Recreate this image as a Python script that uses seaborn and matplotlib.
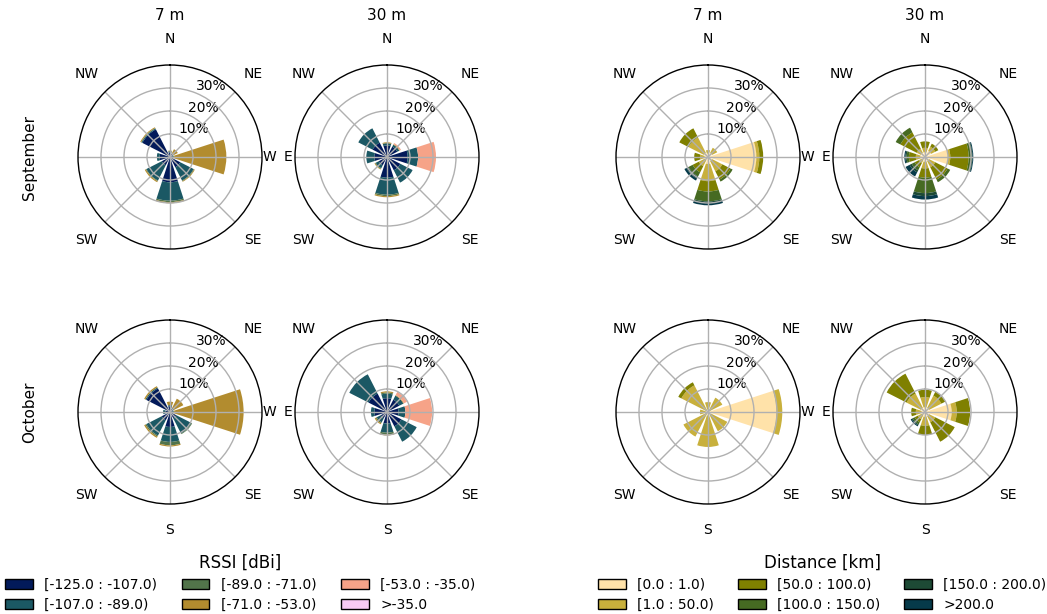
import numpy as np
import matplotlib
matplotlib.use("Agg")
import matplotlib.pyplot as plt
from matplotlib.patches import Patch
import seaborn as sns

# direction sectors, clockwise from north
directions = ["N", "NE", "E", "SE", "S", "SW", "W", "NW"]

rssi_bins = ["[-125.0 : -107.0)", "[-107.0 : -89.0)", "[-89.0 : -71.0)",
             "[-71.0 : -53.0)", "[-53.0 : -35.0)", ">-35.0"]
dist_bins = ["[0.0 : 1.0)", "[1.0 : 50.0)", "[50.0 : 100.0)",
             "[100.0 : 150.0)", "[150.0 : 200.0)", ">200.0"]

rssi_colors = ["#021a5a", "#1b5864", "#52744a", "#b28c2f", "#f6a388", "#f8cbf4"]
dist_colors = ["#ffe2a9", "#c8b03c", "#7f8000", "#466a22", "#1d4a35", "#063a4a"]

# frequency [%] per bin (rows) and direction (columns N..NW)
rssi_sep_7m = [
    [2, 1.5, 1, 5, 11, 4, 4.5, 13.5],
    [.5, .3, .5, 6.5, 8, 7.5, 1.2, .4],
    [0, 0, .3, .3, .6, .3, 0, .2],
    [.3, 2, 22.7, .3, .5, .5, 0, .4],
    [0, 0, 0, 0, 0, 0, 0, 0],
    [0, 0, 0, 0, 0, 0, 0, 0],
]
rssi_sep_30m = [
    [5, 5, 9, 6.5, 9, 4, 5.5, 7],
    [1, 1, 4.5, 6, 7.4, 1.5, 3.5, 7],
    [0, 0, 0, 0, .6, .3, 0, 0],
    [.4, .3, 0, 0, .5, .3, 0, 0],
    [0, .5, 7.8, 0, 0, 0, 0, 0],
    [0, 0, 0, 0, 0, 0, 0, 0],
]
rssi_oct_7m = [
    [2.5, 1.5, 1, 3, 6.5, 4, 2, 11.5],
    [.5, .5, .5, 7.5, 6.5, 7.5, 1, .5],
    [0, 0, .3, .3, 1.5, .5, 0, 0],
    [1.5, 4.5, 30.2, 0, .5, .6, 0, .6],
    [0, 0, 0, 0, 0, 0, 0, 0],
    [0, 0, 0, 0, 0, 0, 0, 0],
]
rssi_oct_30m = [
    [6, 6, 5, 7, 5, 3, 5.5, 9],
    [2, 2, 3, 7.5, 4, 2, 1.5, 9.4],
    [.5, 0, 0, 0, .8, .5, 0, 0],
    [.5, .3, 0, 0, .4, .5, 0, 0],
    [0, 1.5, 11.6, 0, 0, 0, 0, 0],
    [0, 0, 0, 0, 0, 0, 0, 0],
]
dist_sep_7m = [
    [1.5, 2, 21, 2, 3, 1.5, 1.5, 2],
    [1.5, 2.5, 1.3, 5, 7.5, 3, 2, 7.5],
    [0, 0, 1.7, 4, 4.5, 3, 2.5, 4.5],
    [0, 0, 0, 1, 4.3, 2, 0, 0],
    [0, 0, 0, 0, .7, 1, 0, 0],
    [0, 0, 0, 0, 1, 1, 0, 0],
]
dist_sep_30m = [
    [2, 3, 10, 2, 2, 1.5, 2, 2],
    [2, 2, 1, 3, 3, 1.5, 2, 2],
    [2.8, 1.5, 8, 6, 4, 2, 3, 8],
    [0, 0, 1.3, 1.3, 6.7, 1.5, 1, 2.3],
    [0, 0, .3, 0, 1.3, 1, .5, 0],
    [0, 0, .4, 0, 1.5, 2, .5, 0],
]
dist_oct_7m = [
    [1, 1, 29.7, 1.5, 1.5, 1, 1, 1],
    [3.3, 6, 2.6, 7.9, 13.7, 11, 2.5, 12],
    [0, 0, 0, 0, 0, 0, 0, 1.5],
    [0, 0, 0, 0, 0, 0, 0, 0],
    [0, 0, 0, 0, 0, 0, 0, 0],
    [0, 0, 0, 0, 0, 0, 0, 0],
]
dist_oct_30m = [
    [2, 2, 11.6, 2, 2, 1.5, 1.5, 2],
    [4.5, 6, 2.2, 3, 4, 2, 2.5, 7],
    [3.2, 2, 5.8, 9.5, 4, 1.5, 2, 9.7],
    [0, 0, 0, 0, 0, 1, 0, 0],
    [0, 0, 0, 0, 0, .5, 0, 0],
    [0, 0, 0, 0, 0, .5, 0, 0],
]

W, H = 1047, 614
fig = plt.figure(figsize=(W / 100, H / 100), dpi=100)

rssi_pal = sns.color_palette(rssi_colors)
dist_pal = sns.color_palette(dist_colors)

cx = [170, 387, 708, 925]
cy = [157, 412]
R = 92

panels = [
    (0, 0, rssi_sep_7m, rssi_pal), (0, 1, rssi_sep_30m, rssi_pal),
    (0, 2, dist_sep_7m, dist_pal), (0, 3, dist_sep_30m, dist_pal),
    (1, 0, rssi_oct_7m, rssi_pal), (1, 1, rssi_oct_30m, rssi_pal),
    (1, 2, dist_oct_7m, dist_pal), (1, 3, dist_oct_30m, dist_pal),
]

theta = np.deg2rad(np.arange(len(directions)) * 45)
width = np.deg2rad(45 * 0.8)

for row, col, data, pal in panels:
    ax = fig.add_axes([(cx[col] - R) / W, 1 - (cy[row] + R) / H, 2 * R / W, 2 * R / H],
                      projection="polar")
    ax.set_facecolor("none")
    ax.set_theta_zero_location("N")
    ax.set_theta_direction(-1)
    vals = np.array(data, dtype=float)
    bottom = np.zeros(len(directions))
    for i in range(vals.shape[0]):
        ax.bar(theta, vals[i], width=width, bottom=bottom, color=pal[i], linewidth=0)
        bottom = bottom + vals[i]
    ax.set_ylim(0, 40)
    ax.set_rgrids([10, 20, 30], labels=["10%", "20%", "30%"], angle=22.5, fontsize=10)
    labels = ["N" if row == 0 else "", "NE", "E" if col % 2 == 0 else "", "SE",
              "S" if row == 1 else "", "SW", "W" if col % 2 == 1 else "", "NW"]
    ax.set_thetagrids(np.arange(0, 360, 45), labels=labels, fontsize=10)
    ax.tick_params(axis="x", pad=8)
    ax.grid(True, color="#b0b0b0", linewidth=1)
    ax.spines["polar"].set_color("black")
    ax.spines["polar"].set_linewidth(1)

for col, t in enumerate(["7 m", "30 m", "7 m", "30 m"]):
    fig.text(cx[col] / W, 1 - 15 / H, t, ha="center", va="center", fontsize=11)
for row, t in enumerate(["September", "October"]):
    fig.text(30 / W, 1 - cy[row] / H, t, ha="center", va="center", rotation=90, fontsize=11)

rssi_handles = [Patch(facecolor=c, edgecolor="black", label=l) for c, l in zip(rssi_pal, rssi_bins)]
dist_handles = [Patch(facecolor=c, edgecolor="black", label=l) for c, l in zip(dist_pal, dist_bins)]
fig.legend(handles=rssi_handles, title="RSSI [dBi]", ncol=3, frameon=False,
           loc="upper center", bbox_to_anchor=(240 / W, 1 - 541 / H),
           fontsize=10, title_fontsize=12, labelspacing=0.45, columnspacing=1.8)
fig.legend(handles=dist_handles, title="Distance [km]", ncol=3, frameon=False,
           loc="upper center", bbox_to_anchor=(822 / W, 1 - 541 / H),
           fontsize=10, title_fontsize=12, labelspacing=0.45, columnspacing=1.75)

fig.savefig("out.png", dpi=100)
